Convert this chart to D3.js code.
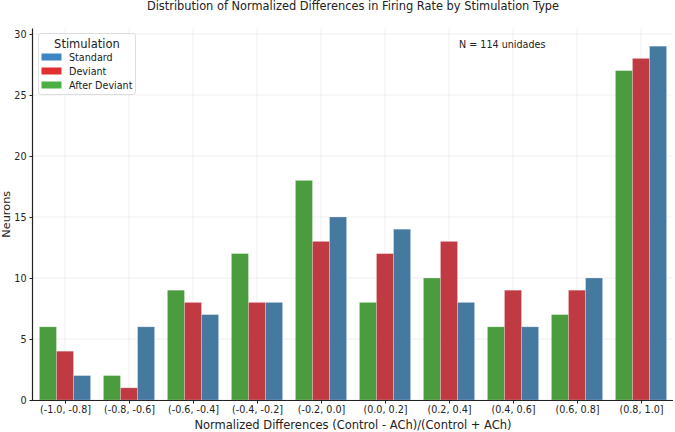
<!DOCTYPE html>
<html><head><meta charset="utf-8">
<script src="https://cdn.jsdelivr.net/npm/d3@7"></script>
<style>body{margin:0;background:#fff}svg{display:block}text{font-family:"DejaVu Sans",sans-serif;fill:#222}</style>
</head><body><svg id="c" width="675" height="432"></svg>
<script>
const categories = ["(-1.0, -0.8]","(-0.8, -0.6]","(-0.6, -0.4]","(-0.4, -0.2]","(-0.2, 0.0]","(0.0, 0.2]","(0.2, 0.4]","(0.4, 0.6]","(0.6, 0.8]","(0.8, 1.0]"];
const seriesNames = ["After Deviant","Deviant","Standard"];
const afterDeviant = [6,2,9,12,18,8,10,6,7,27];
const deviant = [4,1,8,8,13,12,13,9,9,28];
const standard = [2,6,7,8,15,14,8,6,10,29];
const yTicks = [0,5,10,15,20,25,30];
const barColors = {"After Deviant":"#4a9c3e","Deviant":"#c03a44","Standard":"#46799f"};
const legendColors = {"Standard":"#3f85c4","Deviant":"#e0302f","After Deviant":"#4caf45"};
const legendOrder = ["Standard","Deviant","After Deviant"];
const values = {"After Deviant":afterDeviant,"Deviant":deviant,"Standard":standard};

const svg = d3.select("#c");
const m = {l:33, r:2, t:28.5, b:32};
const W = 675, H = 432;
const x = d3.scaleBand().domain(categories).range([m.l, W-m.r]).paddingInner(0.2).paddingOuter(0.1);
const step = (W-m.r-m.l)/categories.length;
const xc = d3.scalePoint().domain(categories).range([m.l+step/2, W-m.r-step/2]);
const xs = d3.scaleBand().domain(seriesNames).range([0, x.bandwidth()]);
const y = d3.scaleLinear().domain([0, 30.45]).range([400, m.t]);

// grid
const g = svg.append("g");
g.selectAll(".vg").data(categories).enter().append("line")
  .attr("x1",d=>xc(d)).attr("x2",d=>xc(d)).attr("y1",y(30.45)).attr("y2",400)
  .attr("stroke","#ebebeb").attr("stroke-width",0.8);
g.selectAll(".hg").data(yTicks).enter().append("line")
  .attr("x1",m.l).attr("x2",W-m.r).attr("y1",d=>y(d)).attr("y2",d=>y(d))
  .attr("stroke","#ebebeb").attr("stroke-width",0.8);

// bars
seriesNames.forEach(s=>{
  svg.append("g").selectAll("rect").data(categories.map((c,i)=>({c,v:values[s][i]}))).enter().append("rect")
    .attr("x",d=>xc(d.c)-x.bandwidth()/2+xs(s)).attr("width",xs.bandwidth())
    .attr("y",d=>y(d.v)).attr("height",d=>y(0)-y(d.v))
    .attr("fill",barColors[s]).attr("stroke","rgba(255,255,255,0.3)").attr("stroke-width",0.8);
});

// axes
const xAxis = d3.axisBottom(xc).tickSize(3.5).tickPadding(3);
const gx = svg.append("g").attr("transform","translate(0,400)").call(xAxis);
gx.select(".domain").attr("d",`M${m.l},0.5H${W-m.r}`).attr("stroke","#222").attr("stroke-width",1.2);
gx.selectAll(".tick line").attr("stroke","#222");
gx.selectAll("text").attr("font-size","9.6px").attr("font-family","DejaVu Sans").attr("fill","#222");
const yAxis = d3.axisLeft(y).tickValues(yTicks).tickSize(3.5).tickPadding(3);
const gy = svg.append("g").attr("transform",`translate(${m.l},0)`).call(yAxis);
gy.select(".domain").attr("d",`M-0.5,${y(30.45)}V400`).attr("stroke","#222").attr("stroke-width",1.2);
gy.selectAll(".tick line").attr("stroke","#222");
gy.selectAll("text").attr("font-size","9.6px").attr("font-family","DejaVu Sans").attr("fill","#222");

// labels
const pc = (m.l+W-m.r)/2;
svg.append("text").attr("x",pc).attr("y",10).attr("text-anchor","middle").attr("font-size","11.4px").text("Distribution of Normalized Differences in Firing Rate by Stimulation Type");
svg.append("text").attr("x",pc).attr("y",429).attr("text-anchor","middle").attr("font-size","11.5px").text("Normalized Differences (Control - ACh)/(Control + ACh)");
svg.append("text").attr("transform",`translate(10,${(y(30.45)+400)/2}) rotate(-90)`).attr("text-anchor","middle").attr("font-size","11.3px").text("Neurons");
svg.append("text").attr("x",459).attr("y",48).attr("font-size","9.6px").text("N = 114 unidades");

// legend
const lg = svg.append("g");
lg.append("rect").attr("x",38.5).attr("y",33.5).attr("width",97).attr("height",61).attr("rx",2.5)
  .attr("fill","rgba(255,255,255,0.85)").attr("stroke","#d6d6d6").attr("stroke-width",0.8);
lg.append("text").attr("x",87).attr("y",47.5).attr("text-anchor","middle").attr("font-size","11.5px").text("Stimulation");
legendOrder.forEach((s,i)=>{
  const yy = 57 + i*14;
  lg.append("rect").attr("x",41.5).attr("y",yy-3.5).attr("width",20).attr("height",7).attr("fill",legendColors[s]);
  lg.append("text").attr("x",69).attr("y",yy+3.5).attr("font-size","9.6px").text(s);
});
</script></body></html>
